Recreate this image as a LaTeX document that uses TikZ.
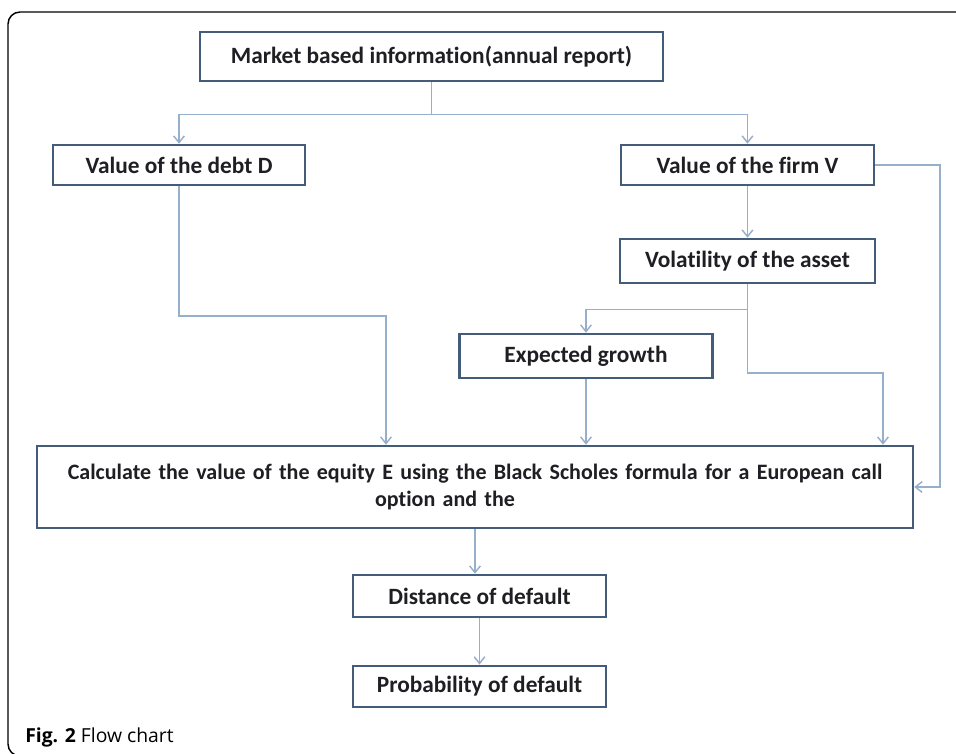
\documentclass[tikz,border=0pt]{standalone}
\usepackage{fontspec}
\usetikzlibrary{arrows.meta}
\newfontfamily\boxfont{Carlito}[Ligatures=NoCommon]
\newfontfamily\capfont{Open Sans}
\definecolor{boxline}{RGB}{66,92,122}
\definecolor{linkline}{RGB}{150,176,204}
\definecolor{boxtext}{RGB}{30,30,35}

\begin{document}
\begin{tikzpicture}[x=0.75pt,y=0.75pt,yscale=-1,xscale=1,
  stage/.style={draw=boxline, line width=1.9pt, fill=white, text=boxtext, inner sep=0pt,
    font=\boxfont\bfseries\fontsize{17.5}{20}\selectfont, minimum width=190pt, minimum height=30pt},
  link/.style={draw=linkline, line width=1.1pt},
  flow/.style={link, -{Straight Barb[length=5pt,width=8pt]}}]

\useasboundingbox (0,0) rectangle (956,753);

%Frame
\draw [line width=1.1pt, rounded corners=9] (960,12) -- (8,12) -- (8,756) -- (22,756) ;

% Text Node
\node [stage, minimum width=347pt, minimum height=37pt] (market) at (431.5,56.5) {Market based information(annual report)};
% Text Node
\node [stage, minimum width=189pt] (debt) at (179,165) {Value of the debt D};
% Text Node
\node [stage] (firm) at (747.5,165) {Value of the firm V};
% Text Node
\node [stage, minimum width=191pt, minimum height=33pt] (vol) at (747.5,261) {Volatility of the asset};
% Text Node
\node [stage, minimum height=33pt] (growth) at (586,356) {Expected growth};
% Text Node
\node [stage, minimum width=657pt, minimum height=61.5pt, text width=650pt, align=center,
  font=\boxfont\bfseries\fontsize{16.5}{20}\selectfont] (calc) at (475,487)
  {Calculate the value of the equity E using the Black Scholes formula for a European call\\option and the\hspace*{45pt}};
% Text Node
\node [stage, minimum height=31.5pt] (dist) at (479.5,596) {Distance of default};
% Text Node
\node [stage, minimum height=31pt] (prob) at (479.5,686.5) {Probability of default};

%Straight Lines
\draw [link] (market.south) -- ++(0,32) coordinate (split) ;
\draw [flow] (split) -| (debt.north) ;
\draw [flow] (split) -| (firm.north) ;
%Straight Lines
\coordinate (rbus) at (940,166);
\draw [flow] (firm.east) -- (firm.east -| rbus) |- (calc.east) ;
\draw [flow] (firm.south) -- (vol.north) ;
%Straight Lines
\draw [link] (vol.south) -- ++(0,25) coordinate (vsplit) ;
\draw [flow] (vsplit) -| (growth.north) ;
\coordinate (vright) at (883,373);
\draw [flow] (vsplit) |- (vright) -- (vright |- calc.north) ;
%Straight Lines
\coordinate (dbend) at (386,316);
\draw [flow] (debt.south) |- (dbend) -- (dbend |- calc.north) ;
\draw [flow] (growth.south) -- (growth.south |- calc.north) ;
%Straight Lines
\draw [flow] (calc.south) -- (calc.south |- dist.north) ;
\draw [flow] (dist.south) -- (prob.north) ;

% Text Node
\node [anchor=base west, inner sep=0pt, font=\capfont\fontsize{14.5}{17}\selectfont] (caption) at (25,742) {\textbf{Fig. 2} Flow chart};

\end{tikzpicture}
\end{document}
